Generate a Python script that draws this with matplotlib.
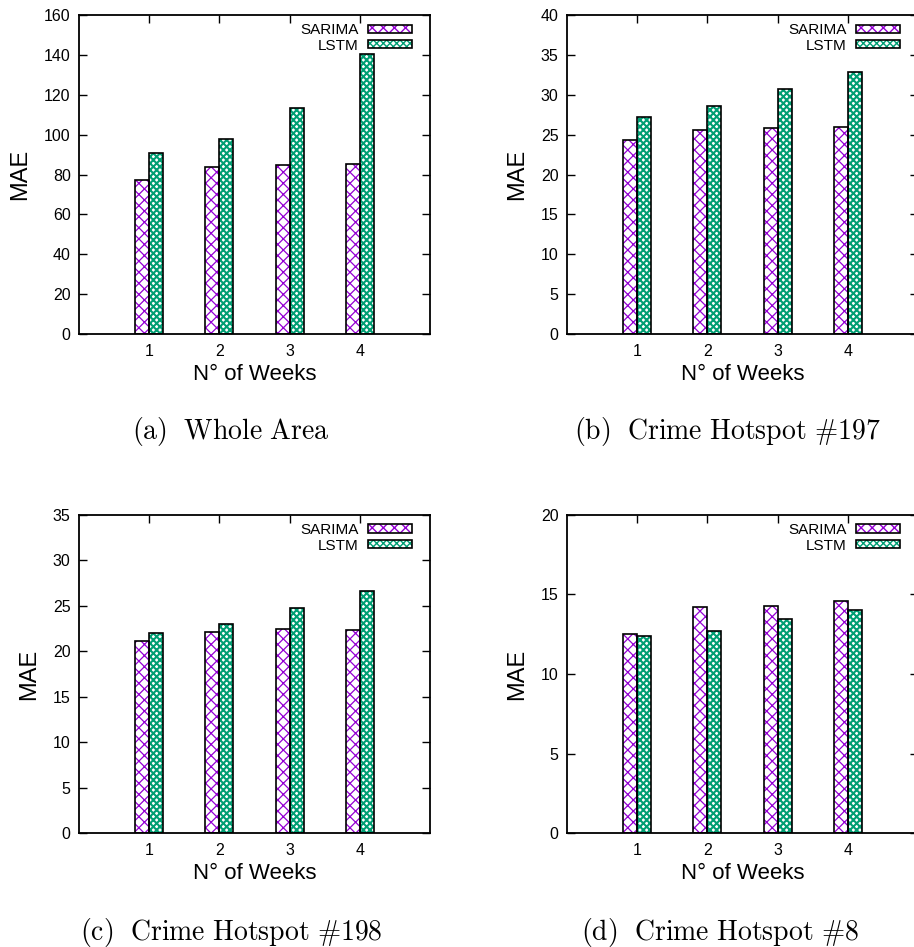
import numpy as np
import matplotlib
matplotlib.use("Agg")
import matplotlib.pyplot as plt
from matplotlib.patches import Patch

# MAE per forecast horizon (weeks), SARIMA vs LSTM
weeks = [1, 2, 3, 4]

sarima_whole = [77.3, 83.7, 84.8, 85.5]
lstm_whole = [90.9, 97.7, 113.6, 140.4]

sarima_197 = [24.4, 25.6, 25.8, 26.0]
lstm_197 = [27.2, 28.6, 30.7, 32.85]

sarima_198 = [21.1, 22.1, 22.4, 22.35]
lstm_198 = [22.0, 23.05, 24.8, 26.6]

sarima_8 = [12.53, 14.2, 14.28, 14.56]
lstm_8 = [12.36, 12.68, 13.48, 14.05]

captions = [
    r"$\mathrm{(a)\ \ Whole\ Area}$",
    r"$\mathrm{(b)\ \ Crime\ Hotspot\ \#197}$",
    r"$\mathrm{(c)\ \ Crime\ Hotspot\ \#198}$",
    r"$\mathrm{(d)\ \ Crime\ Hotspot\ \#8}$",
]
y_limits = [160, 40, 35, 20]
y_steps = [20, 5, 5, 5]

PURPLE = "#9400D3"
GREEN = "#009E73"

plt.rcParams["font.family"] = ["Liberation Sans", "DejaVu Sans"]
plt.rcParams["mathtext.fontset"] = "cm"

fig = plt.figure(figsize=(9.14, 9.47), dpi=100)

W, H = 914, 947
boxes = [(79, 15.3, 351, 318.7), (567, 15.3, 351, 318.7),
         (79, 515, 351, 318), (567, 515, 351, 318)]
caption_pos = [(231, 432), (727, 432), (231, 932), (720, 932)]

panels = [(sarima_whole, lstm_whole), (sarima_197, lstm_197),
          (sarima_198, lstm_198), (sarima_8, lstm_8)]

width = 0.2
x = np.array(weeks, dtype=float)

SAR_HATCH, SAR_HLW = "xxx", 0.9
LSTM_HATCH, LSTM_HLW = "xxxxx", 1.5


def hatched_bars(ax, xs, vals, color, hatch, hlw):
    with plt.rc_context({"hatch.linewidth": hlw}):
        fills = ax.bar(xs, vals, width, facecolor="white", edgecolor=color,
                       hatch=hatch, linewidth=0, zorder=2)
        for p in fills:
            if hasattr(p, "set_hatch_linewidth"):
                p.set_hatch_linewidth(hlw)
    ax.bar(xs, vals, width, fill=False, edgecolor="black", linewidth=1.2,
           zorder=3)


def legend_handle(color, hatch, hlw):
    with plt.rc_context({"hatch.linewidth": hlw}):
        p = Patch(facecolor="white", edgecolor=color, hatch=hatch, linewidth=0)
        if hasattr(p, "set_hatch_linewidth"):
            p.set_hatch_linewidth(hlw)
    return (p, Patch(fill=False, edgecolor="black", linewidth=1.2))


for i, ((sar, lst), (l, t, w, h)) in enumerate(zip(panels, boxes)):
    ax = fig.add_axes([l / W, 1 - (t + h) / H, w / W, h / H])
    hatched_bars(ax, x - width / 2, sar, PURPLE, SAR_HATCH, SAR_HLW)
    hatched_bars(ax, x + width / 2, lst, GREEN, LSTM_HATCH, LSTM_HLW)

    ax.set_xlim(0, 5)
    ax.set_ylim(0, y_limits[i])
    ax.set_xticks(weeks)
    ax.set_yticks(np.arange(0, y_limits[i] + 0.1, y_steps[i]))
    ax.tick_params(direction="in", top=True, right=True, length=6, width=1,
                   labelsize=11.5)
    ax.tick_params(axis="x", pad=7)
    ax.tick_params(axis="y", pad=6)
    for s in ax.spines.values():
        s.set_linewidth(1.3)

    ax.set_ylabel("MAE", fontsize=17, labelpad=9)
    ax.set_xlabel("N° of Weeks", fontsize=16, labelpad=4)

    handles = [legend_handle(PURPLE, SAR_HATCH, SAR_HLW),
               legend_handle(GREEN, LSTM_HATCH, LSTM_HLW)]
    ax.legend(handles, ["SARIMA", "LSTM"], loc="upper right",
              bbox_to_anchor=(1 - 18 / w, 1 - 8 / h), frameon=False,
              markerfirst=False, fontsize=11, handlelength=2.9,
              handleheight=0.45, handletextpad=0.6, labelspacing=0.1,
              borderpad=0, borderaxespad=0)

    cx, cy = caption_pos[i]
    fig.text(cx / W, 1 - cy / H, captions[i], fontsize=20,
             ha="center", va="center")

fig.savefig("out.png", dpi=100)
